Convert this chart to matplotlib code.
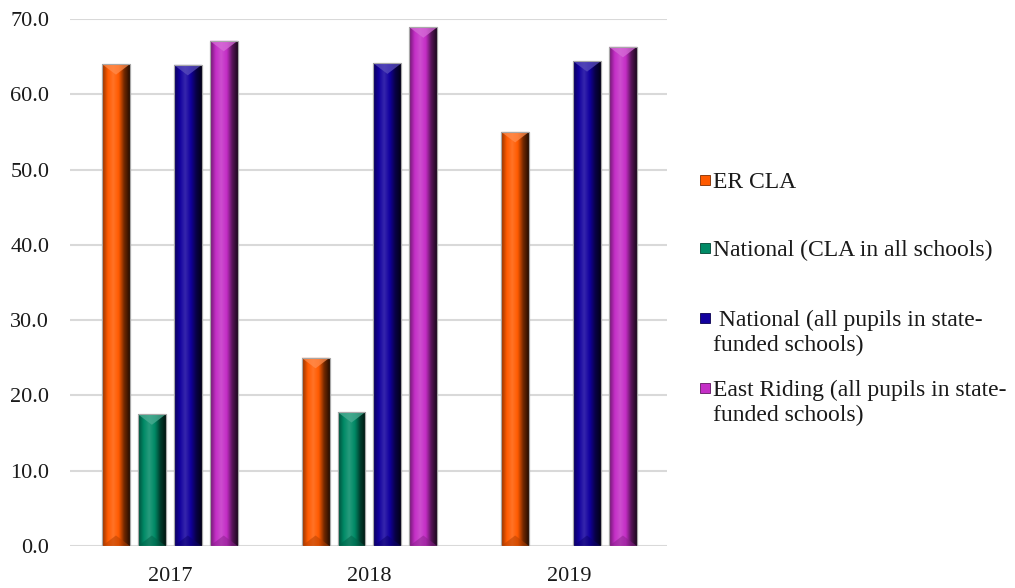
import matplotlib
matplotlib.use("Agg")
import matplotlib.pyplot as plt
import numpy as np
from matplotlib.colors import LinearSegmentedColormap, to_rgb
from matplotlib.patches import Polygon, Rectangle

plt.rcParams['font.family'] = ['Liberation Serif', 'DejaVu Serif']

years = ['2017', '2018', '2019']
series = ['ER CLA',
          'National (CLA in all schools)',
          ' National (all pupils in state-\nfunded schools)',
          'East Riding (all pupils in state-\nfunded schools)']
er_cla = [64.0, 25.0, 55.0]
national_cla = [17.5, 17.8, np.nan]
national_all = [63.9, 64.1, 64.4]
east_riding = [67.1, 68.9, 66.3]
values = [er_cla, national_cla, national_all, east_riding]
colors = ['#ff5a00', '#008a66', '#12009e', '#c42ec6']

fig = plt.figure(figsize=(10.15, 5.88), dpi=100)
ax = fig.add_axes([0.069, 0.0714, 0.588, 0.8964])

x = np.arange(len(years))
width = 0.14
pitch = 0.18


def shade(c, f):
    r = np.array(to_rgb(c))
    if f < 1:
        return tuple(r * f)
    return tuple(r + (1 - r) * (f - 1))


def bar_cmap(col, name):
    return LinearSegmentedColormap.from_list(
        name, [shade(col, 0.55), col, shade(col, 1.15), col,
               shade(col, 0.45), shade(col, 0.15)])


grad = np.linspace(0, 1, 64).reshape(1, -1)
for i, (vals, col) in enumerate(zip(values, colors)):
    pos = x + (i - 1.5) * pitch
    bars = ax.bar(pos, vals, width, color=col, edgecolor='#a0a0a0',
                  linewidth=0.8, zorder=2)
    cmap = bar_cmap(col, 'b%d' % i)
    for rect, v in zip(bars, vals):
        if np.isnan(v):
            continue
        x0 = rect.get_x()
        w = rect.get_width()
        im = ax.imshow(grad, cmap=cmap, aspect='auto', extent=(x0, x0 + w, 0, v),
                       zorder=2.1, interpolation='bilinear')
        im.set_clip_path(rect)
        # bevel at the top and bottom
        d = 1.4
        ax.add_patch(Polygon([(x0, v), (x0 + w, v), (x0 + w / 2, v - d)],
                             facecolor=shade(col, 1.3), edgecolor='none',
                             alpha=0.75, zorder=2.2))
        ax.add_patch(Polygon([(x0, 0), (x0 + w, 0), (x0 + w / 2, d)],
                             facecolor=shade(col, 0.7), edgecolor='none',
                             alpha=0.5, zorder=2.2))
        ax.add_patch(Rectangle((x0, 0), w, v, fill=False, edgecolor='#a8a8a8',
                               linewidth=0.8, zorder=2.3))

ax.set_xlim(-0.5, 2.49)
ax.set_ylim(0, 70)
ax.set_yticks(np.arange(0, 71, 10))
ax.set_yticklabels(['%.1f' % t for t in np.arange(0, 71, 10)])
ax.set_xticks(x)
ax.set_xticklabels(years)
ax.yaxis.grid(True, color='#d9d9d9', linewidth=1.5, zorder=0)
ax.set_axisbelow(True)
for s in ax.spines.values():
    s.set_visible(False)
ax.tick_params(axis='both', length=0, labelsize=16, colors='#1a1a1a')
ax.tick_params(axis='y', pad=15)
ax.tick_params(axis='x', pad=15)

# legend, drawn by hand so the swatch sits on the first line of each label
W, H = 1015.0, 588.0
leg_y = [180, 248, 318, 388]
for lab, col, yy in zip(series, colors, leg_y):
    fig.patches.append(Rectangle((700 / W, (H - yy - 5) / H), 10 / W, 10 / H,
                                 transform=fig.transFigure,
                                 facecolor=col, edgecolor=shade(col, 0.5),
                                 linewidth=0.6))
    fig.text(713 / W, (H - yy + 8) / H, lab, fontsize=17, va='top', ha='left',
             linespacing=1.25, color='#1a1a1a')

fig.savefig('out.png', dpi=100)
